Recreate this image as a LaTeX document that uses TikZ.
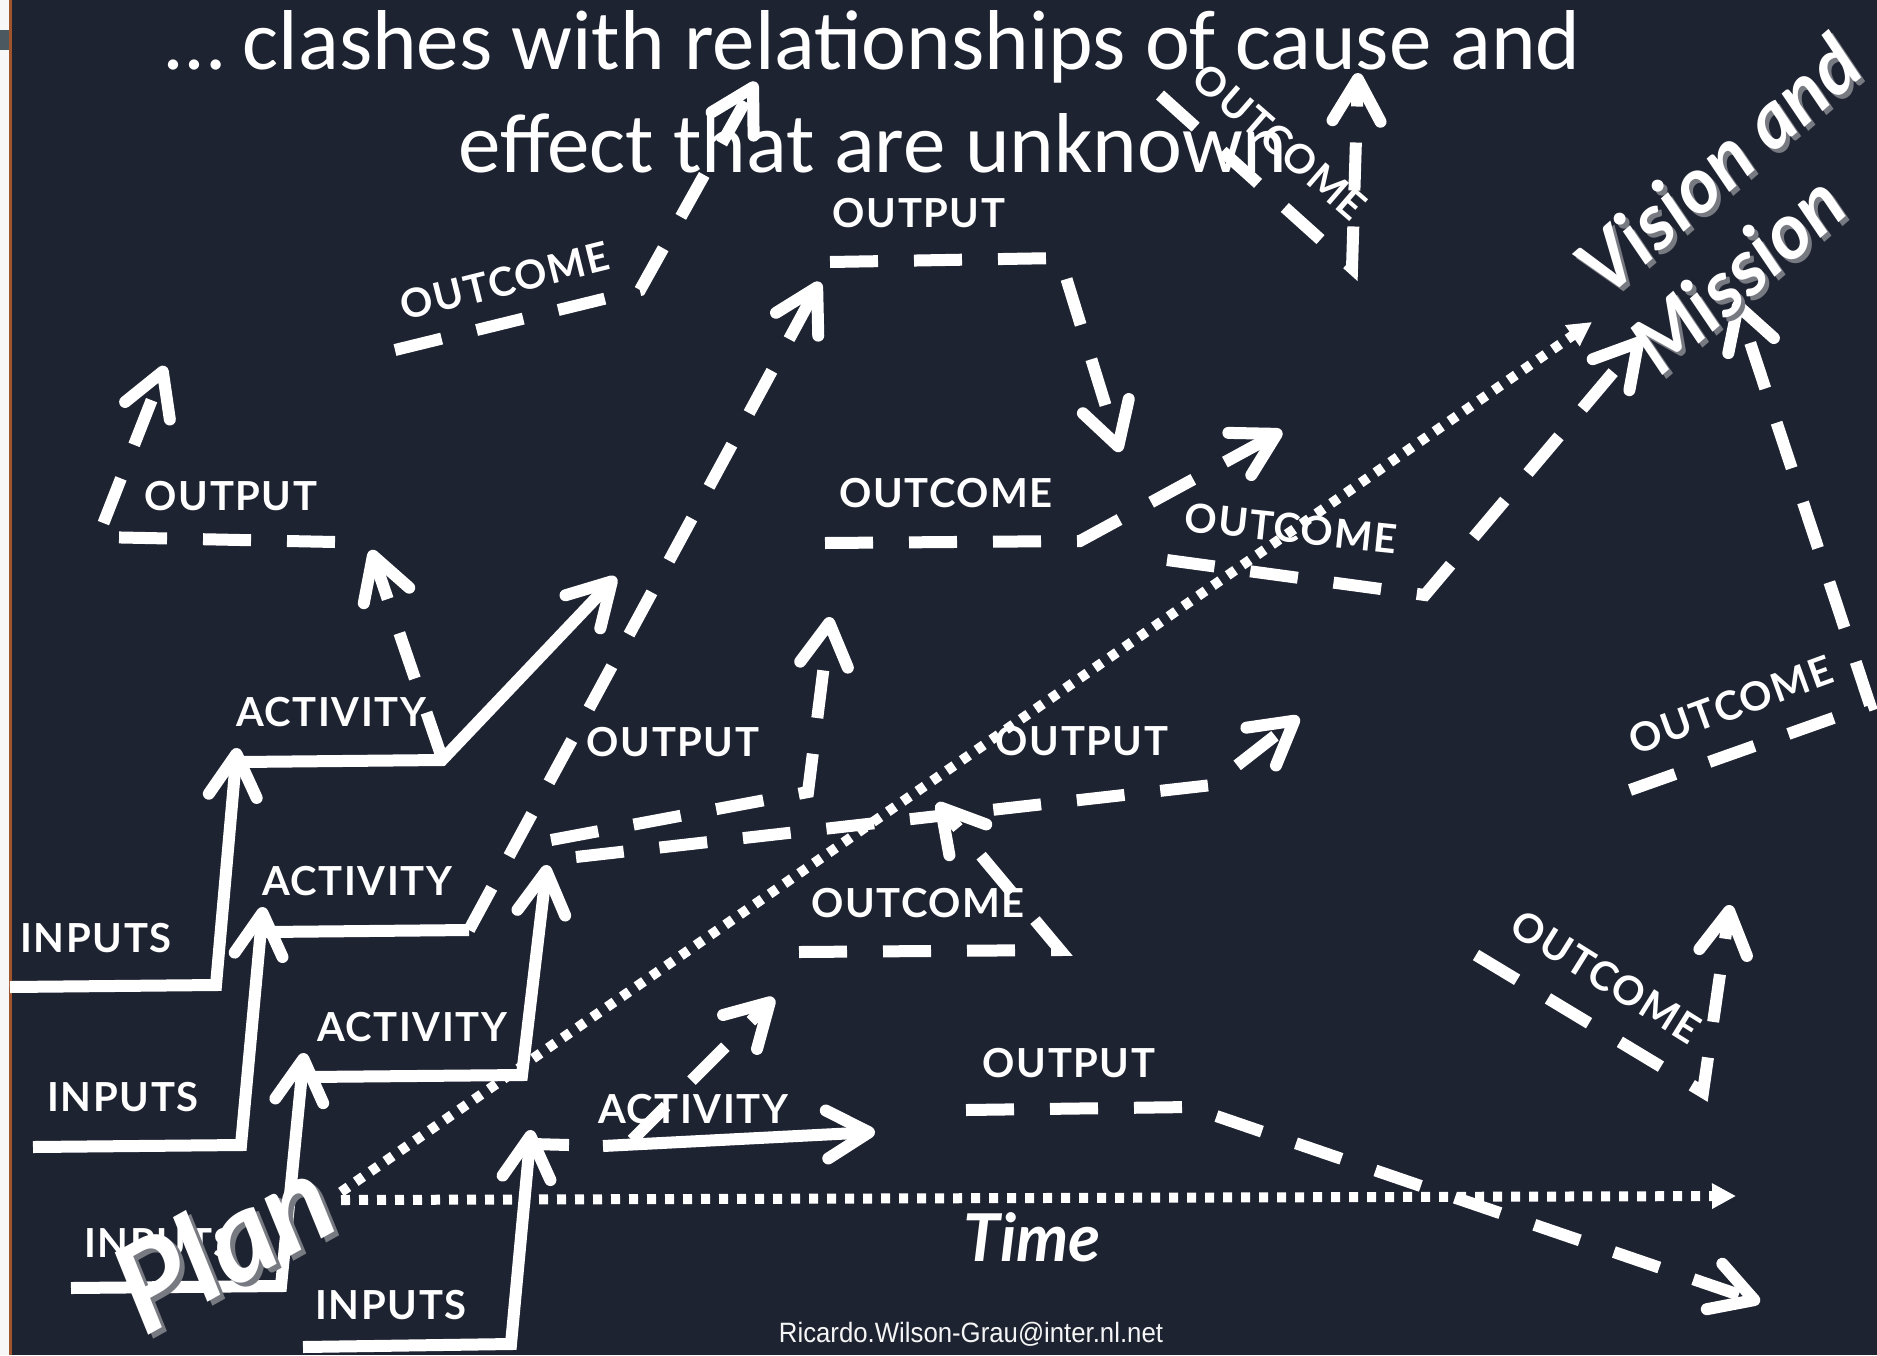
\documentclass[tikz,border=0pt]{standalone}
\usepackage{fontspec}
\usetikzlibrary{arrows.meta}
\newfontfamily\titlefam{Carlito}
\newfontfamily\labelfam{Lato}[LetterSpace=4]
\newfontfamily\bigfam{Lato}
\newfontfamily\mailfam{Liberation Sans}
\definecolor{slate}{RGB}{30,35,49}
\definecolor{rim}{RGB}{160,84,44}
\definecolor{tab}{RGB}{75,88,96}
\definecolor{shade}{RGB}{120,122,130}
\tikzset{
  sol/.style={draw=white, line width=6pt},
  dsh/.style={draw=white, line width=6pt, dash pattern=on 24pt off 18pt},
  dots/.style={draw=white, line width=5pt, dash pattern=on 4.5pt off 4.5pt, -{Triangle[length=12pt,width=12pt]}},
  barb/.style={-{Straight Barb[length=21pt,width=24pt,round]}},
  lab/.style={text=white, inner sep=0pt, font=\labelfam\bfseries\fontsize{20pt}{23pt}\selectfont},
  ttl/.style={text=white, inner sep=0pt, anchor=base, font=\titlefam\fontsize{42.5pt}{51pt}\selectfont},
  big/.style={inner sep=0pt, font=\bigfam\bfseries\itshape\fontsize{39pt}{47pt}\selectfont},
  plantext/.style={inner sep=0pt, rotate=29, anchor=base west, font=\bigfam\bfseries\itshape\fontsize{61pt}{66pt}\selectfont},
}
\begin{document}
\begin{tikzpicture}[x=0.5pt, y=-0.5pt]
\useasboundingbox (0,0) rectangle (1877,1355);
\fill[slate] (0,0) rectangle (1877,1355);
% left frame edge
\fill[white!94!gray] (0,0) rectangle (9,1355);
\fill[rim] (9,0) rectangle (12,1355);
\fill[tab] (0,30) rectangle (9,50);

% title
\node[ttl] (title1) at (873,69) {… clashes with relationships of cause and};
\node[ttl] (title2) at (873,172) {effect that are unknown};

% dotted time axes
\draw[dots] (341,1200) -- (1736,1196);
\draw[dots] (341,1192) -- (1592,322);

% solid staircases: inputs -> activities
\draw[sol, barb] (10,987) -- (216,985) -- (237,748);
\draw[sol, barb] (240,762) -- (442,760) -- (616,577);
\draw[sol, barb] (33,1147) -- (241,1145) -- (263,907);
\draw[sol] (266,932) -- (469,930);
\draw[sol, barb] (71,1288) -- (281,1286) -- (304,1053);
\draw[sol, barb] (308,1077) -- (522,1075) -- (547,865);
\draw[sol, barb] (303,1347) -- (511,1344) -- (531,1130);
\draw[sol] (533,1144) -- (569,1145);
\draw[sol, barb] (603,1146) -- (875,1132);

% dashed pathways: outputs and outcomes
\draw[dsh, barb] (469,930) -- (820,282);
\draw[dsh, barb] (335,542) -- (98,537) -- (165,366);
\draw[dsh, barb] (442,758) -- (371,550);
\draw[dsh, barb] (395,350) -- (640,290) -- (756,82);
\draw[dsh, barb] (830,262) -- (1060,258) -- (1120,452);
\draw[dsh, barb] (825,543) -- (1080,541) -- (1282,431);
\draw[dsh, barb] (1167,560) -- (1425,595) -- (1642,338);
\draw[dsh, barb] (1160,95) -- (1352,268) -- (1358,73);
\draw[dsh, barb] (551,840) -- (808,792) -- (830,617);
\draw[dsh, barb] (576,857) -- (1212,785) -- (1299,717);
\draw[dsh, barb] (799,952) -- (1060,950) -- (937,803);
\draw[dsh, barb] (966,1110) -- (1190,1107) -- (1760,1302);
\draw[dsh, barb] (1630,790) -- (1870,705) -- (1736,300);
\draw[dsh, barb] (1476,955) -- (1703,1092) -- (1730,905);
\draw[dsh, barb] (632,1140) -- (774,998);

% labels
\node[lab] (in1) at (96,938) {INPUTS};
\node[lab] (in2) at (123,1097) {INPUTS};
\node[lab] (in3) at (160,1243) {INPUTS};
\node[lab] (in4) at (391,1305) {INPUTS};
\node[lab] (act1) at (331,712) {ACTIVITY};
\node[lab] (act2) at (357,881) {ACTIVITY};
\node[lab] (act3) at (412,1027) {ACTIVITY};
\node[lab] (act4) at (693,1109) {ACTIVITY};
\node[lab] (out1) at (231,496) {OUTPUT};
\node[lab] (out2) at (673,742) {OUTPUT};
\node[lab] (out3) at (1082,741) {OUTPUT};
\node[lab] (out4) at (919,213) {OUTPUT};
\node[lab] (out5) at (1069,1063) {OUTPUT};
\node[lab] (oc1) at (946,493) {OUTCOME};
\node[lab] (oc2) at (918,903) {OUTCOME};
\node[lab, rotate=14] (oc3) at (505,281) {OUTCOME};
\node[lab, rotate=-6] (oc4) at (1291,528) {OUTCOME};
\node[lab, rotate=-41] (oc5) at (1280,142) {OUTCOME};
\node[lab, rotate=20] (oc6) at (1731,705) {OUTCOME};
\node[lab, rotate=-32] (oc7) at (1606,977) {OUTCOME};

% large italic captions with soft shadow
\node[big, text=shade, rotate=41, anchor=base west] (visionS) at (1610,304) {Vision and};
\node[big, text=white, rotate=41, anchor=base west] (vision) at (1606,300) {Vision and};
\node[big, text=shade, rotate=41, anchor=base west] (missionS) at (1664,382) {Mission};
\node[big, text=white, rotate=41, anchor=base west] (mission) at (1660,378) {Mission};
\node[plantext, text=shade] (planS) at (149,1342) {Plan};
\node[plantext, text=white] (plan) at (144,1338) {Plan};
\node[inner sep=0pt, text=white, anchor=base, font=\bigfam\bfseries\itshape\fontsize{33pt}{38pt}\selectfont] (time) at (1032,1261) {Time};
\node[inner sep=0pt, text=white!92!gray, anchor=base, xscale=0.92, font=\mailfam\fontsize{14pt}{16pt}\selectfont] (mail) at (971,1342) {Ricardo.Wilson-Grau@inter.nl.net};
\end{tikzpicture}
\end{document}
